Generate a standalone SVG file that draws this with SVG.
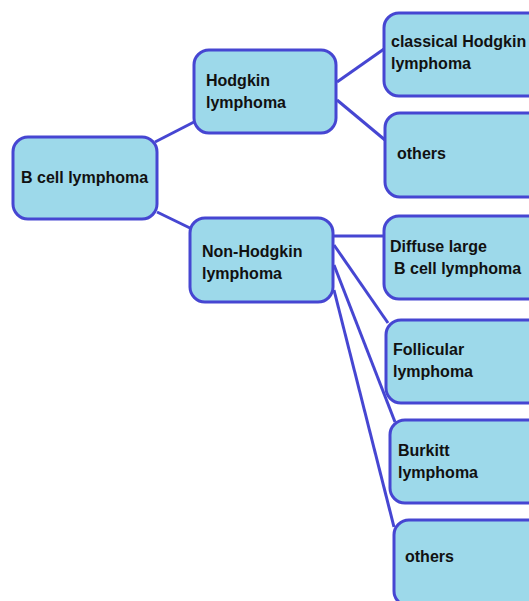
<svg xmlns="http://www.w3.org/2000/svg" width="529" height="601" viewBox="0 0 529 601">
<style>
.box{fill:#9dd9ea;stroke:#4646d2;stroke-width:3}
.t{font-family:"Liberation Sans",Arial,sans-serif;font-weight:bold;font-size:16px;fill:#111}
.c{stroke:#4646d2;stroke-width:3;fill:none}
</style>
<rect width="529" height="601" fill="#fff"/>
<g id="connectors">
<line class="c" x1="155" y1="142" x2="194" y2="122"/>
<line class="c" x1="157" y1="212" x2="192" y2="229"/>
<line class="c" x1="337" y1="82" x2="384" y2="49"/>
<line class="c" x1="337" y1="100" x2="385" y2="140"/>
<line class="c" x1="333" y1="236" x2="384" y2="236"/>
<line class="c" x1="334" y1="245" x2="388" y2="323"/>
<line class="c" x1="334" y1="265" x2="395" y2="422"/>
<line class="c" x1="334" y1="290" x2="394" y2="527"/>
</g>
<g id="n-bcell">
<rect class="box" x="13" y="137" width="144" height="82" rx="15"/>
<text class="t" x="21" y="183">B cell lymphoma</text>
</g>
<g id="n-hodgkin">
<rect class="box" x="194" y="50" width="142" height="83" rx="15"/>
<text class="t" x="206" y="86">Hodgkin</text>
<text class="t" x="206" y="108">lymphoma</text>
</g>
<g id="n-nonhodgkin">
<rect class="box" x="190" y="218" width="143" height="84" rx="15"/>
<text class="t" x="202" y="257">Non-Hodgkin</text>
<text class="t" x="202" y="279">lymphoma</text>
</g>
<g id="n-classical">
<rect class="box" x="384" y="13" width="160" height="83" rx="15"/>
<text class="t" x="391" y="47">classical Hodgkin</text>
<text class="t" x="391" y="69">lymphoma</text>
</g>
<g id="n-others1">
<rect class="box" x="385" y="113" width="160" height="84" rx="15"/>
<text class="t" x="397" y="159">others</text>
</g>
<g id="n-diffuse">
<rect class="box" x="384" y="216" width="160" height="83" rx="15"/>
<text class="t" x="390" y="252">Diffuse large</text>
<text class="t" x="394" y="274">B cell lymphoma</text>
</g>
<g id="n-follicular">
<rect class="box" x="386" y="320" width="160" height="83" rx="15"/>
<text class="t" x="393" y="355">Follicular</text>
<text class="t" x="393" y="377">lymphoma</text>
</g>
<g id="n-burkitt">
<rect class="box" x="390" y="420" width="160" height="83" rx="15"/>
<text class="t" x="398" y="456">Burkitt</text>
<text class="t" x="398" y="478">lymphoma</text>
</g>
<g id="n-others2">
<rect class="box" x="394" y="520" width="160" height="86" rx="15"/>
<text class="t" x="405" y="562">others</text>
</g>
</svg>
